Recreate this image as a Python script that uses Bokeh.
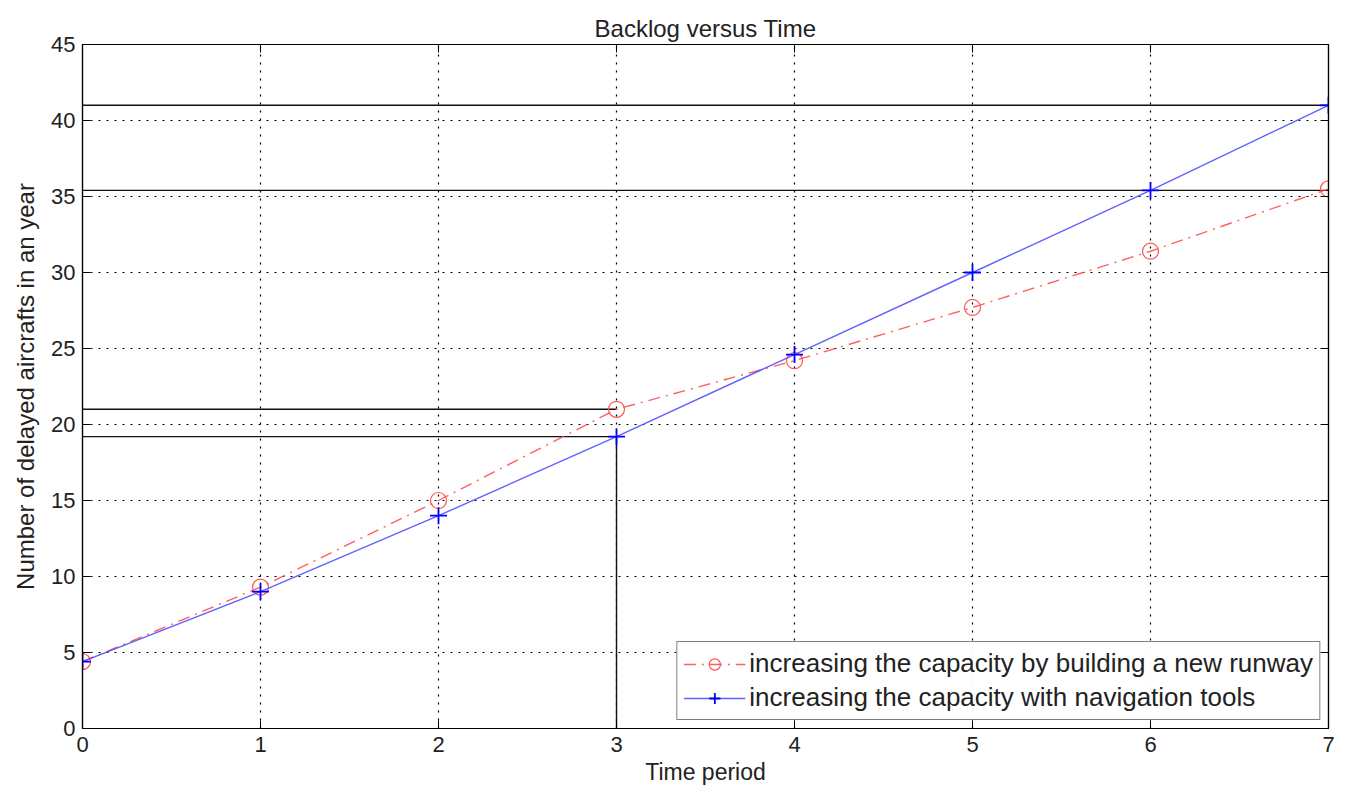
from bokeh.plotting import figure
from bokeh.models import (Range1d, LinearAxis, FixedTicker, Legend, LegendItem,
                          ColumnDataSource, CustomJSTickFormatter)
from bokeh.embed import file_html
from bokeh.resources import INLINE

# data
time_period = [0, 1, 2, 3, 4, 5, 6, 7]
runway = [4.4, 9.3, 15.0, 21.0, 24.2, 27.7, 31.4, 35.5]
navigation = [4.4, 9.0, 14.0, 19.2, 24.6, 30.0, 35.4, 41.0]
x_ticks = [0, 1, 2, 3, 4, 5, 6, 7]
y_ticks = [0, 5, 10, 15, 20, 25, 30, 35, 40, 45]
series_names = ["increasing the capacity by building a new runway",
                "increasing the capacity with navigation tools"]

FONT = "Liberation Sans"
TXT = "#222222"

p = figure(width=1341, height=787, output_backend="svg", toolbar_location=None,
           x_range=Range1d(0, 7), y_range=Range1d(0, 45),
           title="Backlog versus Time",
           min_border_left=82, min_border_right=13, min_border_top=44, min_border_bottom=59)

p.title.align = "center"
p.title.text_font = FONT
p.title.text_font_size = "24px"
p.title.text_font_style = "normal"
p.title.text_color = TXT
p.title.offset = 0
p.title.standoff = 6

p.outline_line_color = "black"
p.outline_line_width = 1.2

for ax in (p.xaxis[0], p.yaxis[0]):
    ax.major_tick_in = 8
    ax.major_tick_out = 0
    ax.minor_tick_line_color = None
    ax.major_label_text_font = FONT
    ax.major_label_text_font_size = "22px"
    ax.major_label_text_color = TXT
    ax.axis_label_text_font = FONT
    ax.axis_label_text_font_size = "23px"
    ax.axis_label_text_font_style = "normal"
    ax.axis_label_text_color = TXT
    ax.axis_line_color = "black"
    ax.axis_line_width = 1.2
    ax.major_tick_line_color = "black"

p.xaxis[0].ticker = FixedTicker(ticks=x_ticks)
p.yaxis[0].ticker = FixedTicker(ticks=y_ticks)
p.xaxis[0].axis_label = "Time period"
p.yaxis[0].axis_label = "Number of delayed aircrafts in an year"
p.yaxis[0].axis_label_text_font_size = "24px"
p.xaxis[0].major_label_standoff = 8
p.xaxis[0].axis_label_standoff = 4
p.yaxis[0].major_label_standoff = 7
p.yaxis[0].axis_label_standoff = 9

p.xgrid.ticker = FixedTicker(ticks=x_ticks)
p.ygrid.ticker = FixedTicker(ticks=y_ticks)
for g in (p.xgrid[0], p.ygrid[0]):
    g.grid_line_color = "black"
    g.grid_line_dash = "2 6"
    g.grid_line_width = 1.2

# reference lines from the data
i3 = time_period.index(3)
h_y = [navigation[-1], navigation[-2], runway[i3], navigation[i3]]
h_x0 = [time_period[0]] * 4
h_x1 = [time_period[-1], time_period[-1], time_period[i3], time_period[i3]]
p.segment(x0=h_x0, y0=h_y, x1=h_x1, y1=h_y, line_color="#111111", line_width=1.4)
p.segment(x0=[time_period[i3]], y0=[0], x1=[time_period[i3]], y1=[navigation[i3]],
          line_color="#111111", line_width=1.4)

src = ColumnDataSource(dict(x=time_period, r=runway, n=navigation))
r_line = p.line("x", "r", source=src, line_color="#ff4444", line_width=1.4,
                line_dash="12 6 2 6", line_alpha=0.85)
r_mark = p.scatter("x", "r", source=src, marker="circle", size=16, fill_color=None,
                   line_color="#ff5555", line_width=1.2)
n_line = p.line("x", "n", source=src, line_color="#5050ff", line_width=1.4, line_alpha=0.9)
n_mark = p.scatter("x", "n", source=src, marker="cross", size=17, line_color="#0000ff",
                   line_width=1.8)

# top/right inward ticks (boxed axes)
blank = CustomJSTickFormatter(code="return '';")
top = LinearAxis(ticker=FixedTicker(ticks=x_ticks), formatter=blank,
                 major_tick_in=8, major_tick_out=0, minor_tick_line_color=None,
                 major_label_standoff=0, axis_line_width=1.2)
right = LinearAxis(ticker=FixedTicker(ticks=y_ticks), formatter=blank,
                   major_tick_in=8, major_tick_out=0, minor_tick_line_color=None,
                   major_label_standoff=0, axis_line_width=1.2)
p.add_layout(top, "above")
p.add_layout(right, "right")

legend = Legend(items=[LegendItem(label=series_names[0], renderers=[r_line, r_mark]),
                       LegendItem(label=series_names[1], renderers=[n_line, n_mark])],
                location="bottom_right")
legend.label_text_font = FONT
legend.label_text_font_size = "26px"
legend.label_text_color = TXT
legend.border_line_color = "black"
legend.border_line_width = 1.3
legend.glyph_width = 62
legend.glyph_height = 28
legend.label_height = 28
legend.spacing = 3
legend.padding = 6
legend.margin = 8
legend.label_standoff = 4
p.add_layout(legend)

open("out.html", "w").write(file_html(p, INLINE))
